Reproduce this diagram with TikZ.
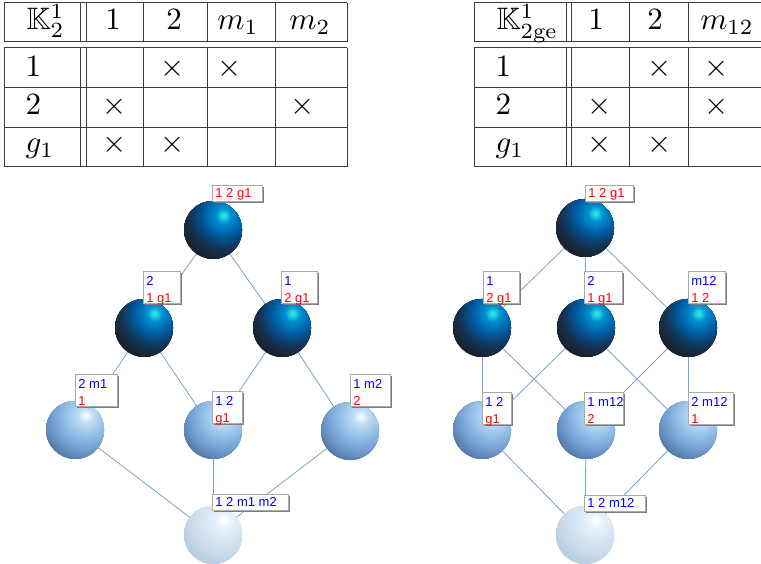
\documentclass[tikz,border=0pt]{standalone}
\usepackage{amssymb}
\usepackage{fontspec}
\newfontfamily\lblfont{Liberation Sans}
\usetikzlibrary{shadows,backgrounds}
\definecolor{hlA}{RGB}{40,225,225}
\definecolor{cA1}{RGB}{0,145,210}
\definecolor{cA2}{RGB}{0,90,160}
\definecolor{cA3}{RGB}{20,50,82}
\definecolor{cA4}{RGB}{28,33,42}
\definecolor{hlB}{RGB}{240,250,255}
\definecolor{cB1}{RGB}{190,222,245}
\definecolor{cB2}{RGB}{150,192,232}
\definecolor{cB3}{RGB}{115,160,210}
\definecolor{cB4}{RGB}{85,125,170}
\definecolor{hlC}{RGB}{252,254,255}
\definecolor{cC1}{RGB}{232,242,250}
\definecolor{cC2}{RGB}{215,230,243}
\definecolor{cC3}{RGB}{200,218,235}
\definecolor{cC4}{RGB}{185,205,225}
\definecolor{edgec}{RGB}{125,160,200}
\definecolor{boxc}{RGB}{170,170,170}
\definecolor{shadc}{RGB}{125,125,125}
\definecolor{tabc}{RGB}{60,60,60}
\definecolor{lblue}{RGB}{0,0,255}
\definecolor{lred}{RGB}{255,0,0}
\newcommand\pickc[1]{%
 \ifdim #1pt>34pt \pgfmathsetmacro\pp{min(100,(#1-34)/12*100)}\colorlet{bc}{S4!\pp!S3}%
 \else\ifdim #1pt>21pt \pgfmathsetmacro\pp{(#1-21)/13*100}\colorlet{bc}{S3!\pp!S2}%
 \else\ifdim #1pt>8pt \pgfmathsetmacro\pp{(#1-8)/13*100}\colorlet{bc}{S2!\pp!S1}%
 \else\ifdim #1pt>2.5pt \pgfmathsetmacro\pp{(#1-2.5)/5.5*100}\colorlet{bc}{S1!\pp!S0}%
 \else \colorlet{bc}{S0}\fi\fi\fi\fi}
\newcommand\ballgrad{\foreach \rr in {47,46,...,1}{\pickc{\rr}\fill[bc] ([shift={(11pt,14pt)}]path picture bounding box.center) circle[radius=\rr pt];}}
\newcommand\Lone[3]{\rule[-4pt]{0pt}{16pt}\makebox[#1][l]{\textcolor{#2}{#3}}}
\newcommand\Ltwo[3]{\rule{0pt}{13.5pt}\makebox[#1][l]{\textcolor{lblue}{#2}}\\\rule[-1.5pt]{0pt}{11pt}\makebox[#1][l]{\smash{\textcolor{lred}{#3}}}}
\tikzset{
 ballnode/.style={circle, minimum size=58pt, inner sep=0pt, draw=none},
 dkball/.style={ballnode, fill=cA4, path picture={\colorlet{S0}{hlA}\colorlet{S1}{cA1}\colorlet{S2}{cA2}\colorlet{S3}{cA3}\colorlet{S4}{cA4}\ballgrad}},
 ltball/.style={ballnode, fill=cB4, path picture={\colorlet{S0}{hlB}\colorlet{S1}{cB1}\colorlet{S2}{cB2}\colorlet{S3}{cB3}\colorlet{S4}{cB4}\ballgrad}},
 plball/.style={ballnode, fill=cC4, path picture={\colorlet{S0}{hlC}\colorlet{S1}{cC1}\colorlet{S2}{cC2}\colorlet{S3}{cC3}\colorlet{S4}{cC4}\ballgrad}},
 edgeline/.style={draw=edgec, line width=0.8pt},
 lbl/.style={anchor=south west, draw=boxc, line width=0.8pt, fill=white, inner xsep=3pt, inner ysep=0pt, align=left, font=\lblfont\fontsize{13}{17}\selectfont, drop shadow={shadow xshift=1.5pt, shadow yshift=-1.5pt, fill=shadc, opacity=1}},
 tline/.style={draw=tabc, line width=1pt},
 tabtxt/.style={inner sep=0pt, anchor=base, scale=3.1, transform shape},
 tabrow/.style={tabtxt, anchor=base west},
}
\begin{document}
\begin{tikzpicture}[x=1pt,y=-1pt]
\useasboundingbox (0,0) rectangle (761,564);
% ---------- table 1 ----------
\foreach \yy in {3,42,48,88,128,167} \draw[tline] (4,\yy) -- (347,\yy);
\foreach \xx in {4,80,86,143,207,275,347} {\draw[tline] (\xx,3) -- (\xx,42); \draw[tline] (\xx,48) -- (\xx,167);}
\node[tabrow] (h1k) at (26,30) {$\mathbb{K}^1_2$};
\node[tabtxt] (h1a) at (113,30) {1};
\node[tabtxt] (h1b) at (174,30) {2};
\node[tabtxt] (h1c) at (238,30) {$m_1$};
\node[tabtxt] (h1d) at (310,30) {$m_2$};
\node[tabrow] (r1a) at (25,77) {1};
\node[tabrow] (r1b) at (25,115) {2};
\node[tabrow] (r1c) at (25,153) {$g_1$};
\node[tabtxt] (x11) at (173,77) {$\times$};
\node[tabtxt] (x12) at (230,77) {$\times$};
\node[tabtxt] (x13) at (115,115) {$\times$};
\node[tabtxt] (x14) at (303,115) {$\times$};
\node[tabtxt] (x15) at (115,153) {$\times$};
\node[tabtxt] (x16) at (173,153) {$\times$};
% ---------- table 2 ----------
\foreach \yy in {3,42,48,88,128,167} \draw[tline] (474,\yy) -- (761,\yy);
\foreach \xx in {474,566,571,629,688} {\draw[tline] (\xx,3) -- (\xx,42); \draw[tline] (\xx,48) -- (\xx,167);}
\node[tabrow] (h2k) at (496,30) {$\mathbb{K}^1_{\mathrm{2ge}}$};
\node[tabtxt] (h2a) at (596,30) {1};
\node[tabtxt] (h2b) at (655,30) {2};
\node[tabtxt] (h2c) at (727,30) {$m_{12}$};
\node[tabrow] (r2a) at (495,77) {1};
\node[tabrow] (r2b) at (495,115) {2};
\node[tabrow] (r2c) at (495,153) {$g_1$};
\node[tabtxt] (x21) at (660,77) {$\times$};
\node[tabtxt] (x22) at (717,77) {$\times$};
\node[tabtxt] (x23) at (600,115) {$\times$};
\node[tabtxt] (x24) at (717,115) {$\times$};
\node[tabtxt] (x25) at (600,153) {$\times$};
\node[tabtxt] (x26) at (660,153) {$\times$};
% ---------- lattice 1 ----------
\node[dkball] (t1) at (213,230) {};
\node[dkball] (l1a) at (144,328) {};
\node[dkball] (l1b) at (282,328) {};
\node[ltball] (b1a) at (75,430) {};
\node[ltball] (b1b) at (213,430) {};
\node[ltball] (b1c) at (350,431) {};
\node[plball] (bot1) at (213,535) {};
% ---------- lattice 2 ----------
\node[dkball] (t2) at (585,228) {};
\node[dkball] (m2a) at (482,328) {};
\node[dkball] (m2b) at (586,328) {};
\node[dkball] (m2c) at (688,328) {};
\node[ltball] (b2a) at (482,430) {};
\node[ltball] (b2b) at (586,430) {};
\node[ltball] (b2c) at (688,430) {};
\node[plball] (bot2) at (585,535) {};
\begin{scope}[on background layer]
\draw[edgeline] (t1.center) -- (l1a.center);
\draw[edgeline] (t1.center) -- (l1b.center);
\draw[edgeline] (l1a.center) -- (b1a.center);
\draw[edgeline] (l1a.center) -- (b1b.center);
\draw[edgeline] (l1b.center) -- (b1b.center);
\draw[edgeline] (l1b.center) -- (b1c.center);
\draw[edgeline] (b1a.center) -- (bot1.center);
\draw[edgeline] (b1b.center) -- (bot1.center);
\draw[edgeline] (b1c.center) -- (bot1.center);
\draw[edgeline] (t2.center) -- (m2a.center);
\draw[edgeline] (t2.center) -- (m2b.center);
\draw[edgeline] (t2.center) -- (m2c.center);
\draw[edgeline] (m2a.center) -- (b2a.center);
\draw[edgeline] (m2a.center) -- (b2b.center);
\draw[edgeline] (m2b.center) -- (b2a.center);
\draw[edgeline] (m2b.center) -- (b2c.center);
\draw[edgeline] (m2c.center) -- (b2b.center);
\draw[edgeline] (m2c.center) -- (b2c.center);
\draw[edgeline] (b2a.center) -- (bot2.center);
\draw[edgeline] (b2b.center) -- (bot2.center);
\draw[edgeline] (b2c.center) -- (bot2.center);
\end{scope}
% ---------- labels ----------
\node[lbl] (lt1) at (212,202) {\Lone{44pt}{lred}{1 2 g1}};
\node[lbl] (ll1a) at (143,304) {\Ltwo{31pt}{2}{1 g1}};
\node[lbl] (ll1b) at (281,304) {\Ltwo{30pt}{1}{2 g1}};
\node[lbl] (lb1a) at (75,407) {\Ltwo{36pt}{2 m1}{1}};
\node[lbl] (lb1b) at (212,424) {\Ltwo{24pt}{1 2}{g1}};
\node[lbl] (lb1c) at (350,407) {\Ltwo{34pt}{1 m2}{2}};
\node[lbl] (lbot1) at (212,511) {\Lone{70pt}{lblue}{1 2 m1 m2}};
\node[lbl] (lt2) at (585,202) {\Lone{42pt}{lred}{1 2 g1}};
\node[lbl] (lm2a) at (483,304) {\Ltwo{30pt}{1}{2 g1}};
\node[lbl] (lm2b) at (584,304) {\Ltwo{32pt}{2}{1 g1}};
\node[lbl] (lm2c) at (688,304) {\Ltwo{31pt}{m12}{1 2}};
\node[lbl] (lb2a) at (482,425) {\Ltwo{23pt}{1 2}{g1}};
\node[lbl] (lb2b) at (584,425) {\Ltwo{33pt}{1 m12}{2}};
\node[lbl] (lb2c) at (688,425) {\Ltwo{39pt}{2 m12}{1}};
\node[lbl] (lbot2) at (584,512) {\Lone{55pt}{lblue}{1 2 m12}};
\end{tikzpicture}
\end{document}
